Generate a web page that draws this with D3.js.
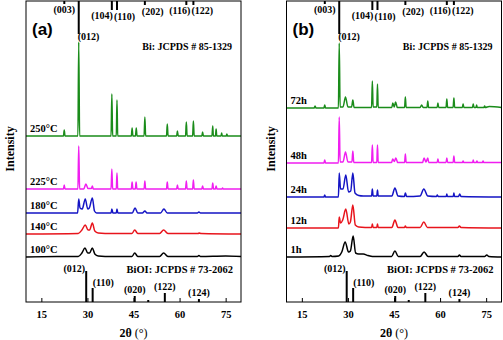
<!DOCTYPE html>
<html>
<head>
<meta charset="utf-8">
<script src="https://cdn.jsdelivr.net/npm/d3@7"></script>
<style>
  body { margin: 0; background: #fff; }
  svg text { font-family: "Liberation Serif", "Times New Roman", serif; font-weight: bold; }
</style>
</head>
<body>
<div id="chart"></div>
<script>
// x axis
const xTicks = [15, 30, 45, 60, 75];

// Bi reference (JCPDS 85-1329), sticks hang from the top
const biPos = [22.47, 27.17, 37.95, 39.62, 48.7, 62.2, 64.5];
const biLen = [3, 33, 9, 9, 4, 4, 4];
const biHkl = ["(003)", "(012)", "(104)", "(110)", "(202)", "(116)", "(122)"];

// BiOI reference (JCPDS 73-2062), sticks rise from the bottom
const bioiPos = [29.6, 31.7, 45.4, 49.8, 55.2, 66.3];
const bioiLen = [31, 14, 6, 2, 9, 3];
const bioiHkl = ["(012)", "(110)", "(020)", "", "(122)", "(124)"];

// panel (a): temperature series  [2theta, intensity above own baseline]
const tempNames = ["250°C", "225°C", "180°C", "140°C", "100°C"];
const tempOffsets = [166, 113, 89, 68, 45];
const t250 = [[10,0],[22.2,0],[22.45,6],[22.7,0],[26.9,0],[27.17,94],[27.45,0],[37.7,0],[37.95,42],[38.2,0],[39.4,0],[39.62,36],[39.85,0],[44.3,0],[44.55,8],[44.8,0],[45.65,0],[45.9,8],[46.15,0],[48.45,0],[48.7,19],[48.95,0],[55.75,0],[56.0,12],[56.25,0],[59.05,0],[59.3,5],[59.55,0],[61.95,0],[62.2,14],[62.45,0],[64.25,0],[64.5,15],[64.75,0],[67.25,0],[67.5,4],[67.75,0],[70.55,0],[70.8,10],[71.0,0],[71.7,0],[71.9,7],[72.1,0],[73.5,0],[73.7,3],[73.9,0],[75.2,0],[75.4,2],[75.6,0],[80,0]];
const t225 = [[10,0],[22.2,0],[22.45,4],[22.7,0],[26.9,0],[27.17,43],[27.45,0],[28.8,0],[29.5,5],[30.2,0.5],[31.3,0.5],[31.6,3],[31.9,0],[37.7,0],[37.95,20],[38.2,0],[39.4,0],[39.62,16],[39.85,0],[44.3,0],[44.55,7],[44.8,0],[45.6,0],[45.85,7],[46.1,0],[48.45,0],[48.7,8],[48.95,0],[55.75,0],[56.0,7],[56.25,0],[59.05,0],[59.3,4],[59.55,0],[61.95,0],[62.2,8],[62.45,0],[64.25,0],[64.5,9],[64.75,0],[67.25,0],[67.5,3],[67.75,0],[70.55,0],[70.8,6],[71.05,0],[71.65,0],[71.9,3],[72.15,0],[73.8,0],[74,1],[74.2,0],[80,0]];
const t180 = [[10,0],[26.8,0],[27.17,14],[27.6,5],[28.3,4],[29.3,14],[30.1,4],[30.6,5],[31.6,15],[32.3,2],[33,0],[37.7,0],[37.95,4],[38.3,0],[39.4,0],[39.62,4],[39.9,0],[44.6,0],[45.5,5],[46.4,0],[47.9,0],[48.7,2],[49.4,0],[53.8,0],[54.9,4],[56,0],[65.8,0],[66.3,1],[66.8,0],[80,0]];
const t140 = [[10,0],[27,0.5],[28.2,4],[29.3,9],[30.2,4],[30.7,4],[31.6,11],[32.4,3],[33.5,1],[38,0.5],[44.5,0.5],[45.4,4],[46.4,0.5],[53.5,0.5],[54.8,4],[56.2,0.5],[66,0.5],[66.4,1],[67,0.5],[80,0]];
const t100 = [[10,0],[20,0.5],[27,0.5],[28.2,4],[29.2,9],[30.1,4],[30.7,4],[31.6,9],[32.4,3],[33.5,1],[38,0.5],[44.5,0.5],[45.4,4],[46.4,0.5],[53.5,0.5],[54.8,4],[56.2,0.5],[65.8,0.5],[66.3,1.5],[66.8,0.5],[75,1],[80,0.5]];

// panel (b): time series
const timeNames = ["72h", "48h", "24h", "12h", "1h"];
const timeOffsets = [194, 139, 105, 74, 45];
const h72 = [[10,0],[19,0],[19.3,2],[19.6,0],[22.2,0],[22.45,3],[22.7,0],[26.9,0],[27.17,65],[27.45,1],[28.4,1],[29.2,11],[30,1],[31.2,1],[31.6,8],[32,0.5],[37.7,0.5],[37.95,27],[38.2,1],[39.4,1],[39.62,24],[39.85,0.5],[44.3,0.5],[44.6,5],[45.1,1],[45.5,6],[46.1,0.5],[48.45,0.5],[48.7,11],[48.95,0.5],[53.5,0.5],[54,3],[54.5,0.5],[55.75,0.5],[56,7],[56.25,0.5],[59.05,0.5],[59.3,5],[59.55,0.5],[61.95,0.5],[62.2,9],[62.45,0.5],[64.25,0.5],[64.5,10],[64.75,0.5],[67.25,0.5],[67.5,4],[67.75,0.5],[70.55,0.5],[70.8,4],[71.05,0.5],[71.7,0.5],[71.9,3],[72.1,0.5],[74.3,0.5],[74.5,2],[74.7,0.5],[76,1.5],[80,0.5]];
const h48 = [[10,0],[22.2,0],[22.45,3],[22.7,0],[26.9,0],[27.17,46],[27.45,1],[28.4,1],[29.2,11],[30,1],[31.3,1],[31.6,12],[31.9,0.5],[37.7,0.5],[37.95,18],[38.2,0.5],[39.4,0.5],[39.62,18],[39.85,0.5],[44.2,0.5],[44.6,4],[45.1,1.5],[45.6,5],[46.2,0.5],[48.45,0.5],[48.7,9],[48.95,0.5],[54.3,0.5],[54.8,5],[55.4,1],[56,5],[56.3,0.5],[59.05,0.5],[59.3,4],[59.55,0.5],[61.95,0.5],[62.2,5],[62.45,0.5],[64.25,0.5],[64.5,7],[64.75,0.5],[67.3,0.5],[67.5,2],[67.7,0.5],[70.6,0.5],[70.8,3],[71,0.5],[71.8,0.5],[72,2],[72.2,0.5],[73.8,0.5],[74,2],[74.2,0.5],[80,0.5]];
const h24 = [[10,0],[22.2,0],[22.45,2],[22.7,0],[26.9,0],[27.17,24],[27.6,8],[28.4,8],[29.3,22],[30.2,5],[30.9,6],[31.6,24],[32.3,4],[33.5,1.5],[35,1],[37.7,1],[37.95,8],[38.2,1],[39.4,1],[39.62,7],[39.85,1],[44.3,1],[45.3,9],[46.3,1],[48.4,0.5],[48.7,4],[49.1,0.5],[53.5,1],[54.7,8],[56,1],[58.8,0.5],[59.1,2],[59.4,0.5],[62,0.5],[62.2,3],[62.4,0.5],[64.3,0.5],[64.5,4],[64.7,0.5],[66,0.5],[66.4,3],[66.8,0.5],[80,0]];
const h12 = [[10,0],[26.9,0],[27.17,11],[27.6,5],[28.3,8],[29.3,19],[30.3,4],[30.8,6],[31.6,23],[32.4,3],[33.5,1],[37.7,0.5],[37.95,4],[38.2,0.5],[39.4,0.5],[39.62,4],[39.85,0.5],[44.3,0.5],[45.3,8],[46.3,0.5],[48.4,0.5],[48.7,2],[49,0.5],[53.5,0.5],[54.7,6],[55.9,0.5],[65.8,0.5],[66.3,2],[66.8,0.5],[80,0]];
const h1 = [[10,0],[24,0.5],[24.4,1.5],[24.8,0.5],[27,1],[28,5],[29.1,15],[30.2,5],[30.8,6],[31.7,21],[32.5,4],[33.5,3],[35,3],[36.5,1.5],[38,0.5],[44.2,0.5],[45.3,6],[46.4,0.5],[53.5,0.5],[54.8,5],[56.1,0.5],[65.8,0.5],[66.3,2],[66.8,0.5],[74.5,0.5],[75.2,2],[75.9,0.5],[80,0]];

const colors = ["#1a8c1a", "#f01ef0", "#1414c4", "#e8141c", "#000000"];

// layout of hkl labels around their sticks
const biLabelLayout = [
  {anchor: "middle", dx: 0, y: 13}, {anchor: "start", dx: -1, y: 40},
  {anchor: "end", dx: 1, y: 19}, {anchor: "start", dx: -3, y: 20},
  {anchor: "start", dx: -3, y: 15}, {anchor: "end", dx: 4, y: 14},
  {anchor: "start", dx: -2, y: 14}
];
const bioiLabelLayout = [
  {anchor: "end", dx: -1, y: 272}, {anchor: "start", dx: 0, y: 286},
  {anchor: "middle", dx: 0, y: 293}, null,
  {anchor: "middle", dx: 0, y: 290}, {anchor: "middle", dx: 0, y: 296}
];

const W = 503, H = 340, pw = 215;
const svg = d3.select("#chart").append("svg").attr("width", W).attr("height", H);

const x = d3.scaleLinear().domain([10, 80]).range([0, pw]);
const y = d3.scaleLinear().domain([0, 301]).range([302, 1]);
const line = d3.line().x(d => x(d[0])).y(d => y(d[1])).curve(d3.curveMonotoneX);

function drawPanel(left, tag, names, offsets, series) {
  const g = svg.append("g").attr("transform", `translate(${left},0)`);

  // traces
  series.forEach((s, i) => {
    g.append("path")
      .attr("d", line(s.map(p => [p[0], p[1] + offsets[i]])))
      .attr("fill", "none")
      .attr("stroke", colors[i])
      .attr("stroke-width", 1.5)
      .attr("stroke-linejoin", "round");
    g.append("text")
      .attr("x", 4)
      .attr("y", y(offsets[i]) - 4)
      .attr("font-size", 10.5)
      .text(names[i]);
  });

  // Bi sticks
  g.selectAll(".bi").data(biPos).join("line")
    .attr("x1", d => x(d)).attr("x2", d => x(d))
    .attr("y1", y(301)).attr("y2", (d, i) => y(301 - biLen[i]))
    .attr("stroke", "#000").attr("stroke-width", 2);
  g.selectAll(".bilab").data(biHkl).join("text")
    .attr("x", (d, i) => x(biPos[i]) + biLabelLayout[i].dx)
    .attr("y", (d, i) => biLabelLayout[i].y)
    .attr("text-anchor", (d, i) => biLabelLayout[i].anchor)
    .attr("font-size", 10)
    .text(d => d);

  // BiOI sticks
  g.selectAll(".bioi").data(bioiPos).join("line")
    .attr("x1", d => x(d)).attr("x2", d => x(d))
    .attr("y1", y(0)).attr("y2", (d, i) => y(bioiLen[i]))
    .attr("stroke", "#000").attr("stroke-width", 2);
  g.selectAll(".bioilab").data(bioiHkl.filter(d => d)).join("text")
    .each(function(d) {
      const i = bioiHkl.indexOf(d);
      d3.select(this)
        .attr("x", x(bioiPos[i]) + bioiLabelLayout[i].dx)
        .attr("y", bioiLabelLayout[i].y)
        .attr("text-anchor", bioiLabelLayout[i].anchor);
    })
    .attr("font-size", 10)
    .text(d => d);

  g.append("text").attr("x", 206).attr("y", 50).attr("text-anchor", "end")
    .attr("font-size", 10).text("Bi: JCPDS # 85-1329");
  g.append("text").attr("x", 207).attr("y", 273).attr("text-anchor", "end")
    .attr("font-size", 10.5).text("BiOI: JCPDS # 73-2062");

  // frame
  g.append("rect").attr("x", 0).attr("y", 1).attr("width", pw).attr("height", 301)
    .attr("fill", "none").attr("stroke", "#000").attr("stroke-width", 1);

  // bottom axis, ticks inward
  const ax = g.append("g").attr("transform", "translate(0,302)")
    .call(d3.axisBottom(x).tickValues(xTicks).tickSizeInner(-4).tickSizeOuter(0).tickPadding(9));
  ax.select(".domain").remove();
  ax.selectAll("text").attr("font-size", 10.5).attr("font-family", "Liberation Serif").attr("font-weight", "bold");

  // axis titles
  const xt = g.append("text").attr("x", pw / 2).attr("y", 337).attr("text-anchor", "middle").attr("font-size", 12);
  xt.append("tspan").text("2θ ");
  xt.append("tspan").style("font-weight", "normal").text("(°)");
  g.append("text").attr("transform", "translate(-12,149) rotate(-90)")
    .attr("text-anchor", "middle").attr("font-size", 12).text("Intensity");

  // panel tag
  g.append("text").attr("x", 6).attr("y", 35)
    .style("font-family", "'Liberation Sans', Arial, sans-serif")
    .attr("font-size", 17).text(tag);
}

drawPanel(26, "(a)", tempNames, tempOffsets, [t250, t225, t180, t140, t100]);
drawPanel(286.5, "(b)", timeNames, timeOffsets, [h72, h48, h24, h12, h1]);
</script>
</body>
</html>
